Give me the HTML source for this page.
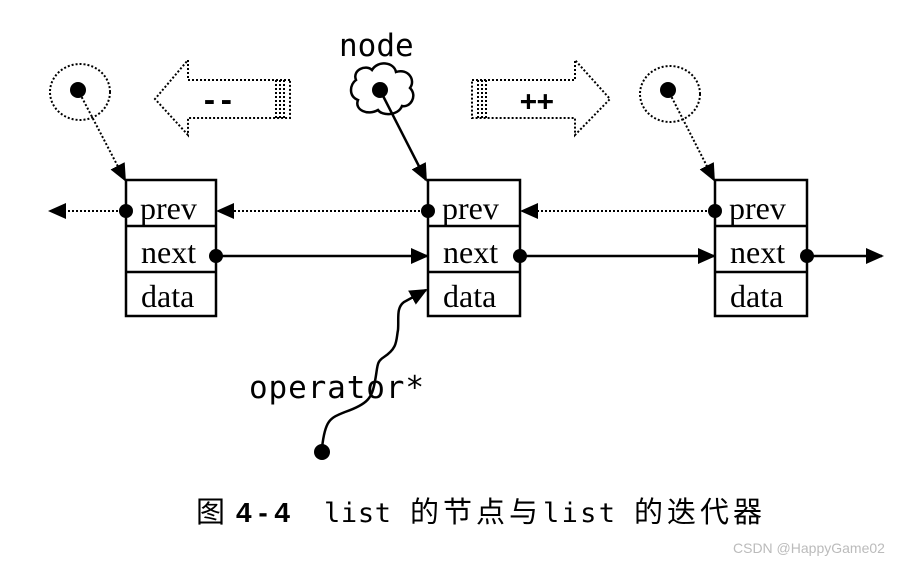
<!DOCTYPE html>
<html><head><meta charset="utf-8"><style>
html,body{margin:0;padding:0;background:#fff;width:922px;height:564px;overflow:hidden}
svg{display:block}
.s{font-family:"Liberation Serif",serif;font-size:32px;fill:#000}
.m{font-family:"DejaVu Sans Mono","Liberation Mono",monospace;fill:#000}
.c{font-family:"Liberation Sans","Noto Sans CJK SC",sans-serif;font-size:29px;fill:#000}
</style></head><body>
<svg width="922" height="564" viewBox="0 0 922 564" xmlns="http://www.w3.org/2000/svg">
<defs>
<marker id="a" markerWidth="18" markerHeight="18" refX="16" refY="8" orient="auto" markerUnits="userSpaceOnUse" viewBox="0 0 18 16"><path d="M0,0 L18,8 L0,16 z" fill="#000"/></marker>
</defs>
<g fill="none" stroke="#000" stroke-width="2.5">
<rect x="126" y="180" width="90" height="136"/><line x1="126" y1="226" x2="216" y2="226"/><line x1="126" y1="272" x2="216" y2="272"/>
<rect x="428" y="180" width="92" height="136"/><line x1="428" y1="226" x2="520" y2="226"/><line x1="428" y1="272" x2="520" y2="272"/>
<rect x="715" y="180" width="92" height="136"/><line x1="715" y1="226" x2="807" y2="226"/><line x1="715" y1="272" x2="807" y2="272"/>
</g>
<g class="s">
<text x="140" y="219">prev</text><text x="141" y="263">next</text><text x="141" y="307">data</text>
<text x="442" y="219">prev</text><text x="443" y="263">next</text><text x="443" y="307">data</text>
<text x="729" y="219">prev</text><text x="730" y="263">next</text><text x="730" y="307">data</text>
</g>
<g stroke="#000" stroke-width="2" stroke-dasharray="2,2" fill="none">
<line x1="126" y1="211" x2="50" y2="211" marker-end="url(#a)"/>
<line x1="428" y1="211" x2="218" y2="211" marker-end="url(#a)"/>
<line x1="715" y1="211" x2="522" y2="211" marker-end="url(#a)"/>
<line x1="78" y1="90" x2="125" y2="180" marker-end="url(#a)"/>
<line x1="668" y1="90" x2="714" y2="180" marker-end="url(#a)"/>
<ellipse cx="80" cy="92" rx="30" ry="28"/>
<ellipse cx="670" cy="94" rx="30" ry="28"/>
<path d="M290,80 L188,80 L188,60 L155,99 L188,135 L188,118 L290,118 Z"/>
<path d="M472,80 L575,80 L575,60 L610,99 L575,135 L575,118 L472,118 Z"/>
<line x1="276" y1="80" x2="276" y2="118"/><line x1="280" y1="80" x2="280" y2="118"/><line x1="284" y1="80" x2="284" y2="118"/>
<line x1="478" y1="80" x2="478" y2="118"/><line x1="482" y1="80" x2="482" y2="118"/><line x1="486" y1="80" x2="486" y2="118"/>
</g>
<g stroke="#000" stroke-width="2.5" fill="none">
<line x1="216" y1="256" x2="427" y2="256" marker-end="url(#a)"/>
<line x1="520" y1="256" x2="714" y2="256" marker-end="url(#a)"/>
<line x1="807" y1="256" x2="882" y2="256" marker-end="url(#a)"/>
<line x1="380" y1="90" x2="426" y2="180" marker-end="url(#a)"/>
<path d="M322,448 C325,420 330,418 345,412 C368,404 372,398 375,381 C378,366 376,362 384,357 C398,348 396,340 398,330 C399,318 396,308 404,302 L426,290" marker-end="url(#a)"/>
<path d="M356,80 C352,70 366,64 372,70 C378,60 394,62 396,72 C408,68 416,80 410,88 C418,96 410,108 402,106 C398,116 382,116 378,110 C368,116 354,110 358,100 C348,96 350,84 356,80 Z"/>
</g>
<g fill="#000">
<circle cx="78" cy="90" r="8"/><circle cx="380" cy="90" r="8"/><circle cx="668" cy="90" r="8"/>
<circle cx="126" cy="211" r="7"/><circle cx="428" cy="211" r="7"/><circle cx="715" cy="211" r="7"/>
<circle cx="216" cy="256" r="7"/><circle cx="520" cy="256" r="7"/><circle cx="807" cy="256" r="7"/>
<circle cx="322" cy="452" r="8"/>
</g>
<text class="m" x="339" y="56" font-size="31">node</text>
<text class="m" x="249" y="398" font-size="31" textLength="175">operator*</text>
<text class="m" x="201" y="110" font-size="28" font-weight="bold">--</text>
<text class="m" x="520" y="110" font-size="28" font-weight="bold">++</text>
<text class="c" x="196" y="522">图</text>
<text x="236" y="522" font-size="28" font-weight="bold" font-family="'Liberation Sans',sans-serif" textLength="54">4-4</text>
<text class="m" x="324" y="522" font-size="27" textLength="67">list</text>
<text class="c" x="410" y="522" textLength="128">的节点与</text>
<text class="m" x="543" y="522" font-size="27" textLength="72">list</text>
<text class="c" x="634" y="522" textLength="128">的迭代器</text>
<text x="733" y="553" font-size="14" fill="#bbb" font-family="'Liberation Sans',sans-serif">CSDN @HappyGame02</text>
</svg>
</body></html>
